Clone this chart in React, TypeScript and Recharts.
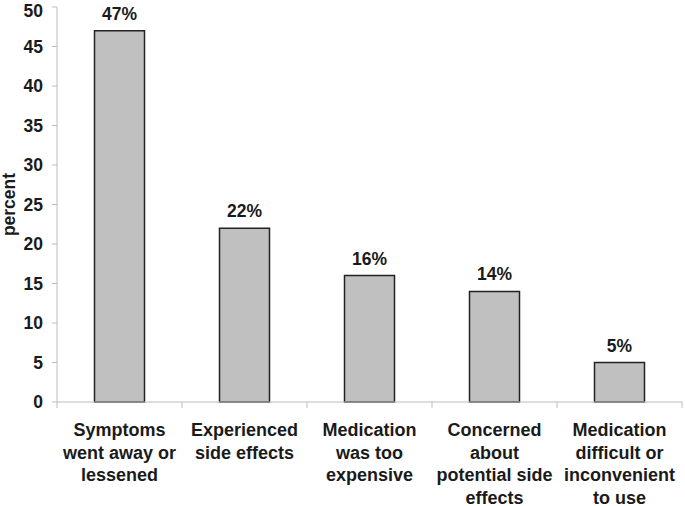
import { Bar, BarChart, LabelList, XAxis, YAxis } from "recharts";

const categories = ["symptoms", "sideEffects", "expensive", "concerned", "difficult"];
const categoryLines = [
  ["Symptoms", "went away or", "lessened"],
  ["Experienced", "side effects"],
  ["Medication", "was too", "expensive"],
  ["Concerned", "about", "potential side", "effects"],
  ["Medication", "difficult or", "inconvenient", "to use"],
];
const percents = [47, 22, 16, 14, 5];
const yTicks = [0, 5, 10, 15, 20, 25, 30, 35, 40, 45, 50];

const FONT = "'Liberation Sans', Arial, sans-serif";
const AXIS = "#bdbdbd";
const TEXT = "#1a1a1a";
const BAND = 125;

const rows = categories.map((c, i) => ({ key: c, value: percents[i] }));

function CategoryTick(props: any) {
  const { x, y, payload, index } = props;
  const i = categories.indexOf(payload.value);
  const lines = categoryLines[i] ?? [];
  const isLast = index === categories.length - 1;
  return (
    <g>
      <line x1={x - BAND / 2} x2={x - BAND / 2} y1={y} y2={y + 6} stroke={AXIS} />
      {isLast && <line x1={x + BAND / 2} x2={x + BAND / 2} y1={y} y2={y + 6} stroke={AXIS} />}
      <text x={x} y={y} textAnchor="middle" fontSize={18} fontWeight="bold" fill={TEXT} fontFamily={FONT}>
        {lines.map((l, j) => (
          <tspan key={j} x={x} y={y + 34 + j * 22.5}>
            {l}
          </tspan>
        ))}
      </text>
    </g>
  );
}

function PercentLabel(props: any) {
  const { viewBox } = props;
  const cx = 9;
  const cy = viewBox.y + viewBox.height / 2;
  return (
    <text
      x={cx}
      y={cy}
      transform={`rotate(-90 ${cx} ${cy})`}
      textAnchor="middle"
      dominantBaseline="central"
      fontSize={17.5}
      fontWeight="bold"
      fill={TEXT}
      fontFamily={FONT}
    >
      percent
    </text>
  );
}

export default function App() {
  return (
    <div style={{ position: "absolute", left: 0, top: 0, background: "#fff" }}>
      <BarChart
        width={685}
        height={506}
        data={rows}
        margin={{ top: 7, right: 3, bottom: 4, left: 0 }}
        barCategoryGap="30%"
      >
        <XAxis
          dataKey="key"
          stroke={AXIS}
          tickLine={false}
          tickSize={0}
          tickMargin={0}
          height={100}
          interval={0}
          tick={<CategoryTick />}
        />
        <YAxis
          width={57}
          domain={[0, 50]}
          ticks={yTicks}
          stroke={AXIS}
          tickSize={5}
          tickMargin={9}
          tick={{ fontSize: 17.5, fontWeight: "bold", fill: TEXT, fontFamily: FONT }}
          label={{ content: <PercentLabel /> }}
        />
        <Bar dataKey="value" fill="#c0c0c0" stroke="#222" strokeWidth={1.5} isAnimationActive={false}>
          <LabelList
            dataKey="value"
            position="top"
            offset={11}
            formatter={(v: any) => `${v}%`}
            style={{ fontSize: 17.5, fontWeight: "bold", fill: TEXT, fontFamily: FONT }}
          />
        </Bar>
      </BarChart>
    </div>
  );
}
